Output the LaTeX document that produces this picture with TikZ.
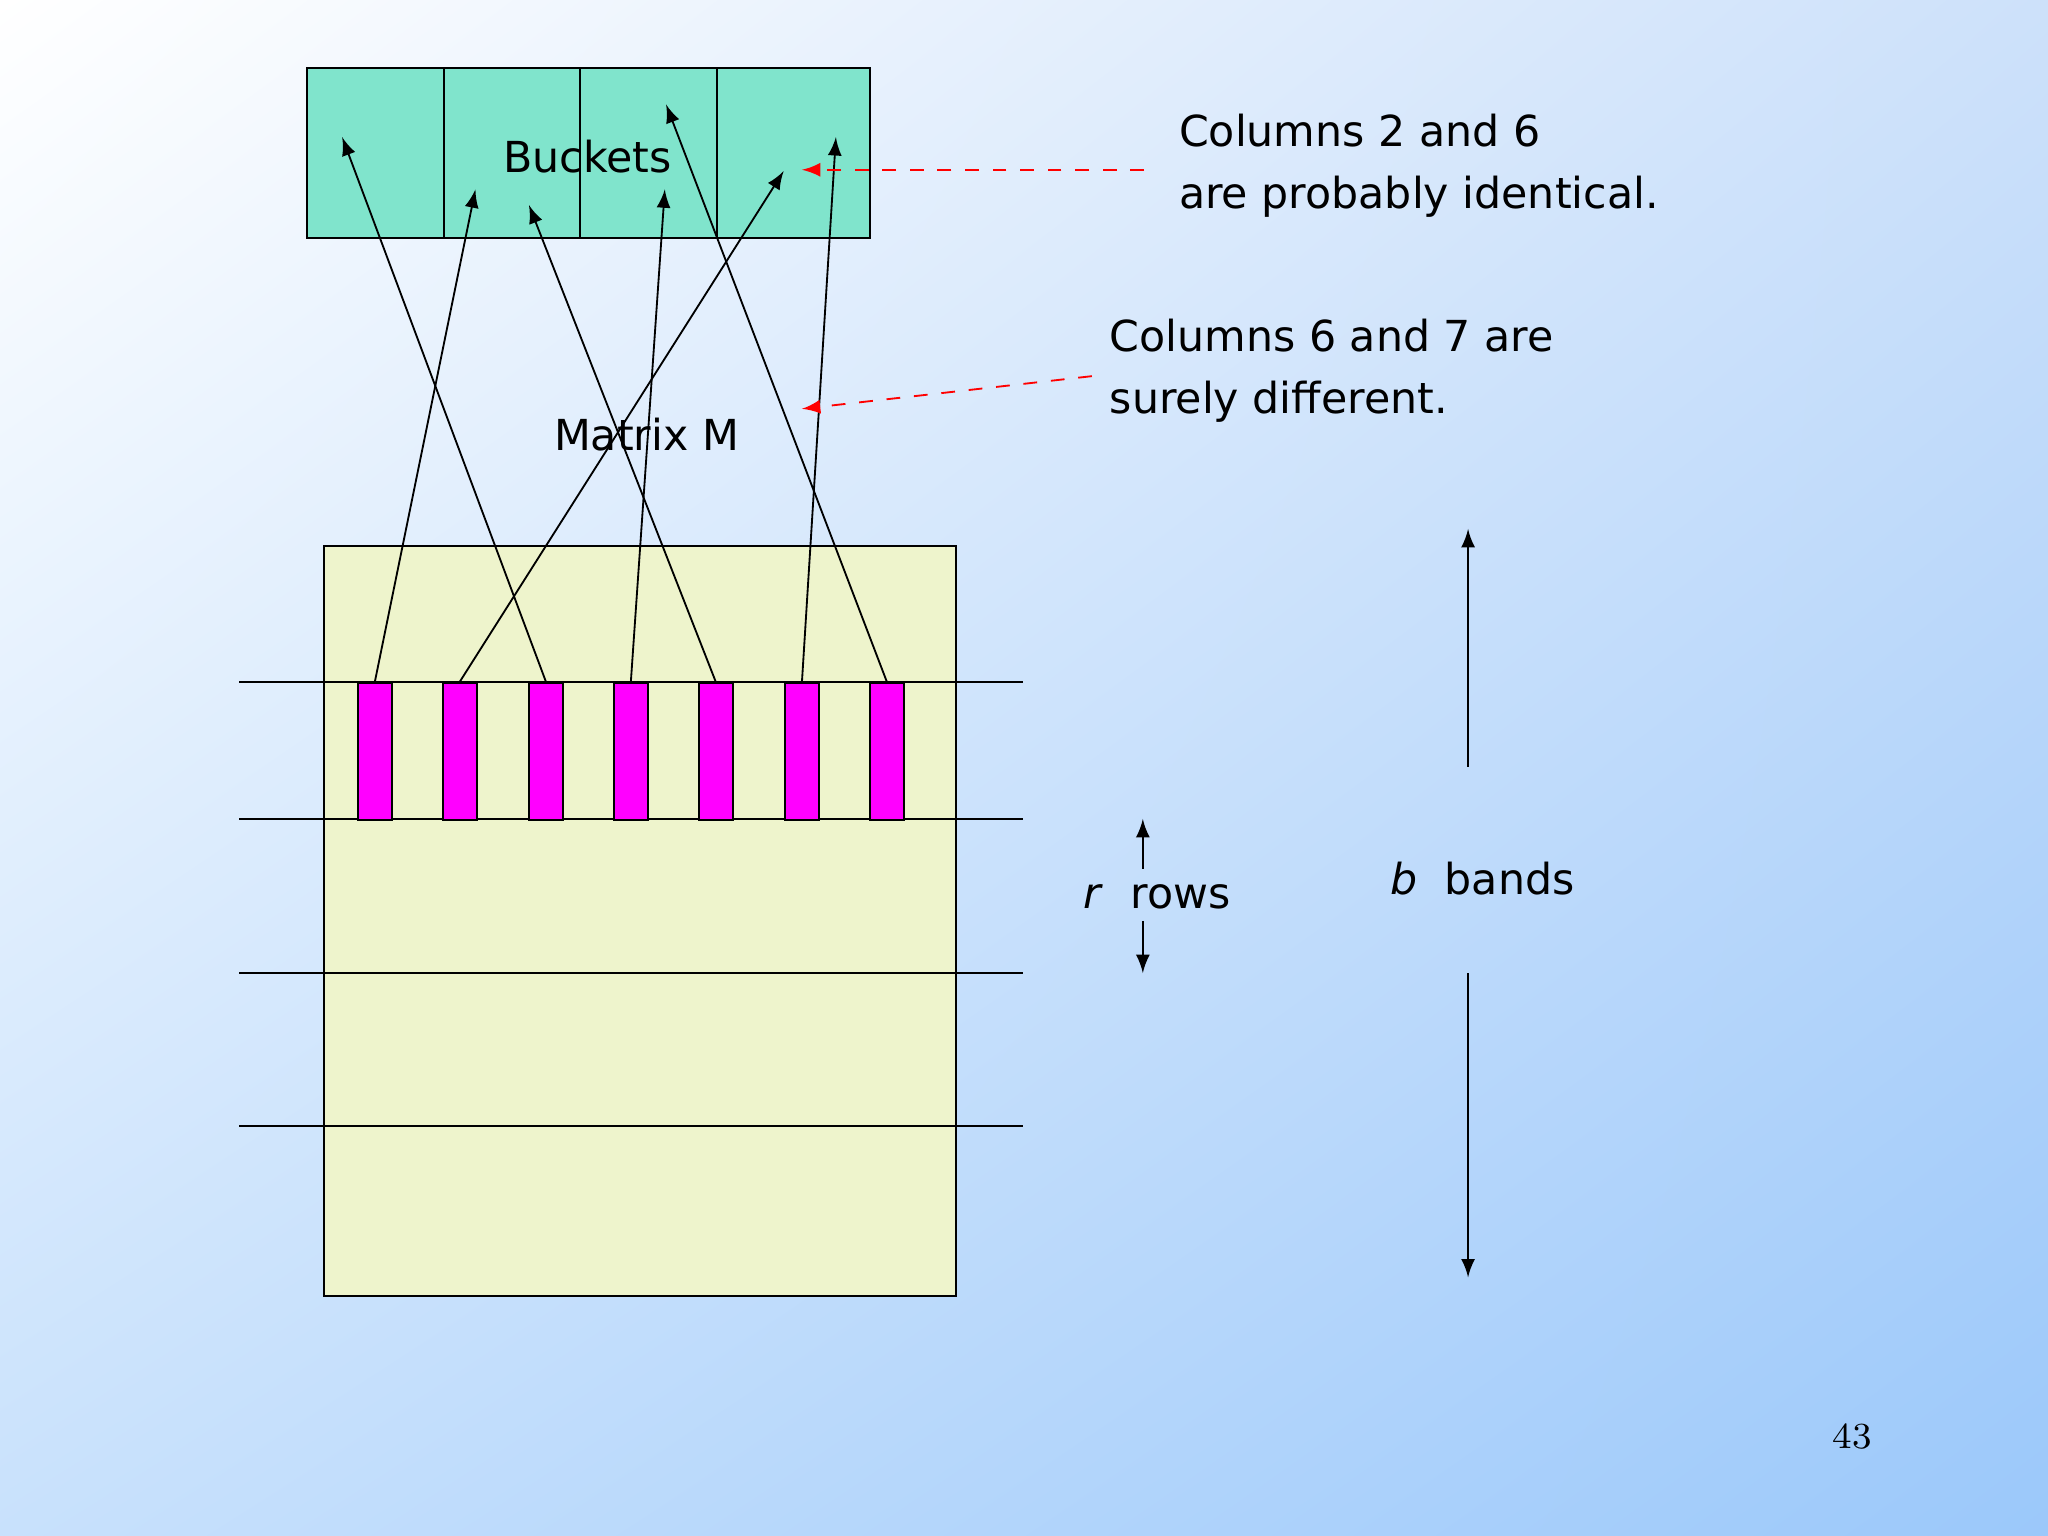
\documentclass[tikz,border=0pt]{standalone}
\usepackage{fontspec}
\setmainfont{DejaVu Sans}
\usetikzlibrary{arrows,shadings}
\definecolor{bucketgreen}{RGB}{128, 228, 204}
\definecolor{matrixyellow}{RGB}{238, 244, 204}
\definecolor{barmagenta}{RGB}{255, 0, 255}
\definecolor{bgblue}{RGB}{155, 200, 250}
\definecolor{bgtopright}{RGB}{205, 225, 250}
\definecolor{bgbotleft}{RGB}{200, 225, 252}
\tikzstyle{bar} = [rectangle, draw, fill=barmagenta, minimum width=0.26cm, minimum height=1.05cm, inner sep=0pt]
\tikzstyle{line} = [draw, -latex]
\tikzstyle{note} = [draw, red, dashed, -latex]
\tikzstyle{txt} = [font=\fontsize{9.3}{13.4}\selectfont, align=left, inner sep=0pt]

\begin{document}
\begin{tikzpicture}[x=0.01cm, y=-0.01cm]
  \shade [upper left=white, upper right=bgtopright,
    lower left=bgbotleft, lower right=bgblue] (0,0) rectangle (1568,1176);
  \useasboundingbox (0,0) rectangle (1568,1176);
  % buckets
  \draw [fill=bucketgreen] (235,52) rectangle (666,182);
  \foreach \x in {340,444,549} \draw (\x,52) -- (\x,182);
  \node [txt] (buckets) at (450,120) {Buckets};
  % matrix
  \draw [fill=matrixyellow] (248,418) rectangle (732,992);
  \foreach \y in {522,627,745,862} \draw (183,\y) -- (783,\y);
  \node [txt] (matrix) at (495,333) {Matrix M};
  \foreach \x [count=\i] in {287,352,418,483,548,614,679}
    \node [bar, anchor=north] (b\i) at (\x,522) {};
  \coordinate (t1) at (364,145);
  \coordinate (t2) at (600,131);
  \coordinate (t3) at (262,105);
  \coordinate (t4) at (509,145);
  \coordinate (t5) at (405,157);
  \coordinate (t6) at (640,105);
  \coordinate (t7) at (510,80);
  \foreach \i in {1,...,7} \path [line] (b\i.north) -- (t\i);
  % notes
  \node [txt, anchor=west] (same) at (902,127) {Columns 2 and 6\\are probably identical.};
  \node [txt, anchor=west] (diff) at (849,284) {Columns 6 and 7 are\\surely different.};
  \coordinate (samefrom) at (876,130);
  \coordinate (sameto) at (614,130);
  \coordinate (difffrom) at (836,288);
  \coordinate (diffto) at (614,313);
  \path [note] (samefrom) -- (sameto);
  \path [note] (difffrom) -- (diffto);
  % rows and bands
  \node [txt] (rows) at (886,687) {\textit{r}\ \ rows};
  \coordinate (rtop) at (875,627);
  \coordinate (rbot) at (875,745);
  \path [line] (875,665) -- (rtop);
  \path [line] (875,705) -- (rbot);
  \node [txt] (bands) at (1135,673) {\textit{b}\ \ bands};
  \coordinate (btop) at (1124,405);
  \coordinate (bbot) at (1124,978);
  \path [line] (1124,587) -- (btop);
  \path [line] (1124,745) -- (bbot);
  \node [font=\fontfamily{lmr}\selectfont\fontsize{8}{10}\selectfont] (page) at (1418,1100) {43};
\end{tikzpicture}
\end{document}
